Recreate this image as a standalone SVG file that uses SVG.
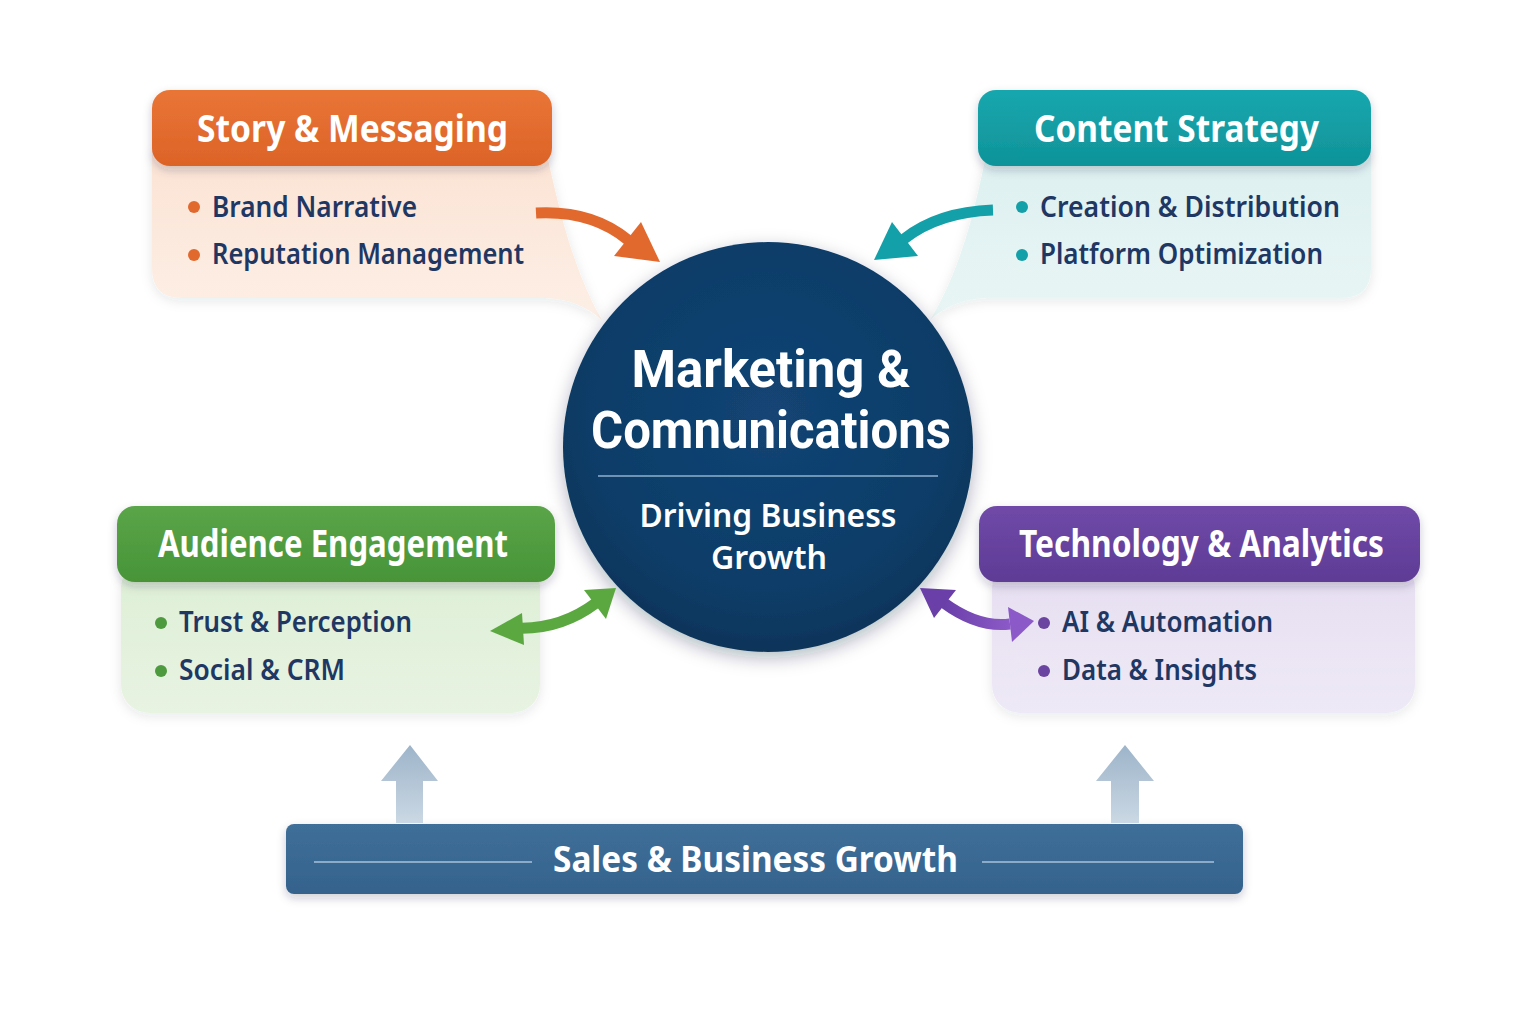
<svg xmlns="http://www.w3.org/2000/svg" width="1536" height="1024" viewBox="0 0 1536 1024">
  <defs>
    <filter id="sh" x="-20%" y="-30%" width="140%" height="170%">
      <feDropShadow dx="0" dy="4" stdDeviation="5" flood-color="#1a2a40" flood-opacity="0.22"/>
    </filter>
    <filter id="shs" x="-20%" y="-20%" width="140%" height="150%">
      <feDropShadow dx="0" dy="3" stdDeviation="6" flood-color="#1a2a40" flood-opacity="0.10"/>
    </filter>
    <filter id="shc" x="-20%" y="-20%" width="140%" height="140%">
      <feDropShadow dx="0" dy="6" stdDeviation="9" flood-color="#0a2038" flood-opacity="0.30"/>
    </filter>
    <linearGradient id="gOr" x1="0" y1="0" x2="0" y2="1"><stop offset="0" stop-color="#E97536"/><stop offset="1" stop-color="#DC6327"/></linearGradient>
    <linearGradient id="gTe" x1="0" y1="0" x2="0" y2="1"><stop offset="0" stop-color="#18A7AE"/><stop offset="1" stop-color="#0F9399"/></linearGradient>
    <linearGradient id="gGr" x1="0" y1="0" x2="0" y2="1"><stop offset="0" stop-color="#5AA548"/><stop offset="1" stop-color="#479438"/></linearGradient>
    <linearGradient id="gPu" x1="0" y1="0" x2="0" y2="1"><stop offset="0" stop-color="#7049A8"/><stop offset="1" stop-color="#5E3C95"/></linearGradient>
    <linearGradient id="bOr" x1="0" y1="0" x2="0" y2="1"><stop offset="0" stop-color="#FBE3D4"/><stop offset="1" stop-color="#FDEFE6"/></linearGradient>
    <linearGradient id="bTe" x1="0" y1="0" x2="0" y2="1"><stop offset="0" stop-color="#DDF0F0"/><stop offset="1" stop-color="#E9F5F5"/></linearGradient>
    <linearGradient id="bGr" x1="0" y1="0" x2="0" y2="1"><stop offset="0" stop-color="#DDEFD5"/><stop offset="1" stop-color="#E8F3E2"/></linearGradient>
    <linearGradient id="bPu" x1="0" y1="0" x2="0" y2="1"><stop offset="0" stop-color="#E6DEF1"/><stop offset="1" stop-color="#EEE9F6"/></linearGradient>
    <radialGradient id="gC" cx="0.5" cy="0.42" r="0.6"><stop offset="0" stop-color="#124575"/><stop offset="0.75" stop-color="#0E3C66"/><stop offset="1" stop-color="#0B3358"/></radialGradient>
    <linearGradient id="gUp" x1="0" y1="0" x2="0" y2="1"><stop offset="0" stop-color="#9DB4C9"/><stop offset="1" stop-color="#CBD8E4"/></linearGradient>
    <linearGradient id="gBar" x1="0" y1="0" x2="0" y2="1"><stop offset="0" stop-color="#3F6F99"/><stop offset="1" stop-color="#34638D"/></linearGradient>
    <linearGradient id="gPa" x1="0" y1="0" x2="1" y2="0"><stop offset="0" stop-color="#6A3FA8"/><stop offset="1" stop-color="#8C5AC8"/></linearGradient>
  </defs>
  <style>
    text { font-family: "Noto Sans", "Open Sans", "DejaVu Sans", sans-serif; }
    .hd { font-weight: 700; font-size: 37px; fill: #ffffff; }
    .it { font-weight: 600; font-size: 29px; fill: #1F3763; }
    .t1 { font-family: Roboto, "Liberation Sans", sans-serif; font-weight: 700; font-size: 51px; fill: #ffffff; }
    .t2 { font-weight: 600; font-size: 32px; fill: #ffffff; }
    .bar { font-weight: 700; font-size: 36px; fill: #ffffff; }
  </style>
  <rect width="1536" height="1024" fill="#ffffff"/>

  <g id="story">
    <path d="M152,150 L546,150 C558,205 572,268 602,320 C586,306 568,298 540,298 L182,298 Q152,298 152,268 Z" fill="url(#bOr)" filter="url(#shs)"/>
    <rect x="152" y="90" width="400" height="76" rx="18" fill="url(#gOr)" filter="url(#sh)"/>
    <text class="hd" x="197" y="142" textLength="311" lengthAdjust="spacingAndGlyphs">Story &amp; Messaging</text>
    <circle cx="194" cy="207" r="6" fill="#E2692E"/>
    <circle cx="194" cy="255" r="6" fill="#E2692E"/>
    <text class="it" x="212" y="217" textLength="205" lengthAdjust="spacingAndGlyphs">Brand Narrative</text>
    <text class="it" x="212" y="264" textLength="312" lengthAdjust="spacingAndGlyphs">Reputation Management</text>
  </g>

  <g id="content">
    <path d="M1371,150 L987,150 C976,205 962,268 930,320 C946,306 964,298 992,298 L1341,298 Q1371,298 1371,268 Z" fill="url(#bTe)" filter="url(#shs)"/>
    <rect x="978" y="90" width="393" height="76" rx="18" fill="url(#gTe)" filter="url(#sh)"/>
    <text class="hd" x="1034" y="142" textLength="285" lengthAdjust="spacingAndGlyphs">Content Strategy</text>
    <circle cx="1022" cy="207" r="6" fill="#14A0A8"/>
    <circle cx="1022" cy="255" r="6" fill="#14A0A8"/>
    <text class="it" x="1040" y="217" textLength="300" lengthAdjust="spacingAndGlyphs">Creation &amp; Distribution</text>
    <text class="it" x="1040" y="264" textLength="283" lengthAdjust="spacingAndGlyphs">Platform Optimization</text>
  </g>

  <g id="audience">
    <rect x="121" y="560" width="419" height="153" rx="28" fill="url(#bGr)" filter="url(#shs)"/>
    <rect x="117" y="506" width="438" height="76" rx="18" fill="url(#gGr)" filter="url(#sh)"/>
    <text class="hd" x="158" y="557" textLength="350" lengthAdjust="spacingAndGlyphs">Audience Engagement</text>
    <circle cx="161" cy="623" r="6" fill="#4E9A3E"/>
    <circle cx="161" cy="671" r="6" fill="#4E9A3E"/>
    <text class="it" x="179" y="632" textLength="233" lengthAdjust="spacingAndGlyphs">Trust &amp; Perception</text>
    <text class="it" x="179" y="680" textLength="166" lengthAdjust="spacingAndGlyphs">Social &amp; CRM</text>
  </g>

  <g id="tech">
    <rect x="992" y="560" width="423" height="153" rx="28" fill="url(#bPu)" filter="url(#shs)"/>
    <rect x="979" y="506" width="441" height="76" rx="18" fill="url(#gPu)" filter="url(#sh)"/>
    <text class="hd" x="1019" y="557" textLength="365" lengthAdjust="spacingAndGlyphs">Technology &amp; Analytics</text>
    <circle cx="1044" cy="623" r="6" fill="#6A44A0"/>
    <circle cx="1044" cy="671" r="6" fill="#6A44A0"/>
    <text class="it" x="1062" y="632" textLength="211" lengthAdjust="spacingAndGlyphs">AI &amp; Automation</text>
    <text class="it" x="1062" y="680" textLength="195" lengthAdjust="spacingAndGlyphs">Data &amp; Insights</text>
  </g>

  <g id="center">
    <circle cx="768" cy="447" r="205" fill="url(#gC)" filter="url(#shc)"/>
    <text class="t1" x="771" y="387" text-anchor="middle" textLength="279" lengthAdjust="spacingAndGlyphs">Marketing &amp;</text>
    <text class="t1" x="771" y="448" text-anchor="middle" textLength="360" lengthAdjust="spacingAndGlyphs">Comnunications</text>
    <line x1="598" y1="476" x2="938" y2="476" stroke="#8FB0CE" stroke-width="1.5"/>
    <text class="t2" text-anchor="middle"><tspan x="768" y="527" textLength="257" lengthAdjust="spacingAndGlyphs">Driving Business</tspan><tspan x="769" y="569" textLength="116" lengthAdjust="spacingAndGlyphs">Growth</tspan></text>
  </g>

  <g id="sales">
    <rect x="286" y="824" width="957" height="70" rx="8" fill="url(#gBar)" filter="url(#sh)"/>
    <line x1="314" y1="862" x2="532" y2="862" stroke="#A9C2DA" stroke-width="1.5"/>
    <line x1="982" y1="862" x2="1214" y2="862" stroke="#A9C2DA" stroke-width="1.5"/>
    <text class="bar" x="553" y="872" textLength="405" lengthAdjust="spacingAndGlyphs">Sales &amp; Business Growth</text>
  </g>

  <g id="connectors">
    <path d="M536,213 Q592,210 628,240" fill="none" stroke="#E2692E" stroke-width="11"/>
    <polygon points="660,262 614,256 641,222" fill="#E2692E"/>
    <path d="M993,210 Q938,212 904,239" fill="none" stroke="#14A0A8" stroke-width="11"/>
    <polygon points="874,260 918,256 892,222" fill="#14A0A8"/>
    <path d="M516,628 Q560,630 596,603" fill="none" stroke="#5AA83F" stroke-width="11"/>
    <polygon points="490,631 522,613 524,645" fill="#5AA83F"/>
    <polygon points="616,588 606,619 584,590" fill="#5AA83F"/>
    <path d="M944,603 Q978,628 1010,624" fill="none" stroke="url(#gPa)" stroke-width="11"/>
    <polygon points="920,588 956,590 934,618" fill="#6A3FA8"/>
    <polygon points="1034,621 1008,607 1012,642" fill="#8C5AC8"/>
    <polygon points="396,823 396,781 381,781 410,745 438,781 423,781 423,823" fill="url(#gUp)"/>
    <polygon points="1111,823 1111,781 1096,781 1125,745 1154,781 1139,781 1139,823" fill="url(#gUp)"/>
  </g>
</svg>
